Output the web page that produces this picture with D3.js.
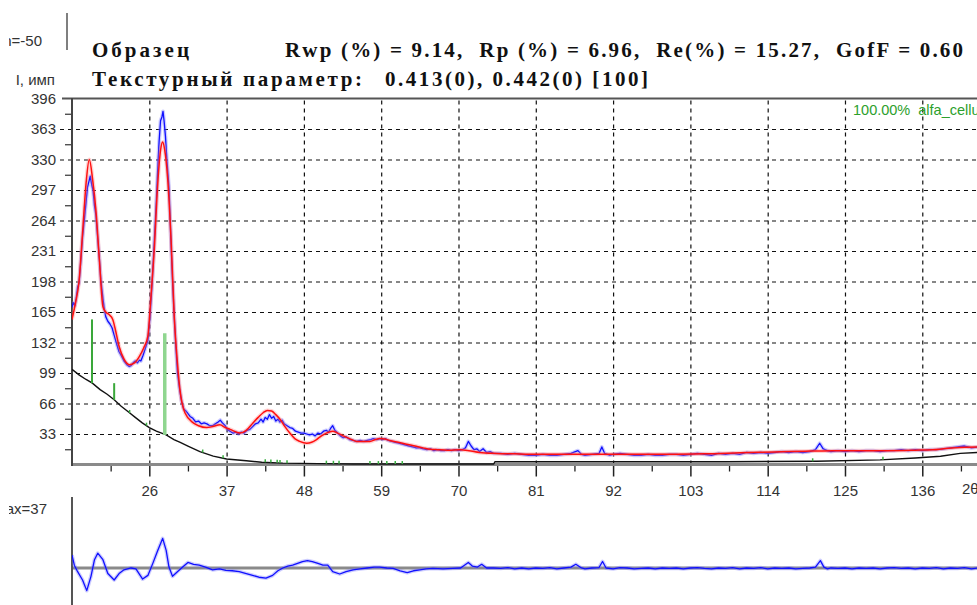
<!DOCTYPE html>
<html><head><meta charset="utf-8">
<script src="https://cdn.jsdelivr.net/npm/d3@7"></script>
<style>html,body{margin:0;padding:0;background:#fff;overflow:hidden}</style>
</head><body>
<svg id="chart" width="977" height="605"></svg>
<script>
// ---- data: 2θ (deg) vs intensity (counts) ----
const xMajorTicks = [26, 37, 48, 59, 70, 81, 92, 103, 114, 125, 136];
const xMinorTicks = [20.5, 31.5, 42.5, 53.5, 64.5, 75.5, 86.5, 97.5, 108.5, 119.5, 130.5, 141.5];
const yTickLabels = [33, 66, 99, 132, 165, 198, 231, 264, 297, 330, 363, 396];
const yMinorTicks = [16.5, 49.5, 82.5, 115.5, 148.5, 181.5, 214.5, 247.5, 280.5, 313.5, 346.5, 379.5];

// observed pattern
const observed = [
 [15.0,170],[15.2,175],[15.4,172],[15.6,180],[15.8,192],[16.0,196],[16.2,215],[16.5,246],[16.8,268],[17.0,284],
 [17.2,300],[17.4,306],[17.6,312],[17.8,303],[18.0,296],[18.2,280],[18.4,270],[18.66,245],[18.9,222],[19.1,200],
 [19.4,180],[19.6,168],[19.8,160],[20.1,155],[20.4,152],[20.7,148],[21.0,140],[21.3,132],[21.7,122],[22.0,118],
 [22.4,112],[22.8,108],[23.15,106],[23.4,107],[23.7,110],[24.0,112],[24.3,110],[24.6,113],[24.8,112],[25.1,118],
 [25.4,125],[25.8,134],[26.1,160],[26.4,196],[26.7,240],[27.0,285],[27.2,320],[27.4,350],[27.6,372],[27.8,376],
 [27.95,382],[28.1,372],[28.3,355],[28.5,330],[28.8,300],[29.1,238],[29.3,200],[29.55,160],[29.8,125],[30.0,100],
 [30.3,82],[30.6,68],[30.9,60],[31.2,58],[31.5,55],[31.8,52],[32.2,50],[32.6,46],[33.0,47],[33.4,44],
 [33.8,45],[34.2,44],[34.6,42],[35.0,42],[35.4,44],[35.8,46],[36.1,48],[36.4,45],[36.8,42],[37.1,38],
 [37.5,36],[37.9,34],[38.3,35],[38.7,33],[39.1,35],[39.5,34],[39.9,37],[40.3,38],[40.7,41],[41.1,44],
 [41.5,45],[41.9,49],[42.2,46],[42.5,51],[42.8,49],[43.1,54],[43.4,50],[43.7,52],[44.0,47],[44.3,49],
 [44.6,46],[44.9,48],[45.2,44],[45.6,42],[46.0,40],[46.4,39],[46.8,36],[47.2,35],[47.6,34],[48.0,34],
 [48.4,33],[48.8,32],[49.2,33],[49.6,31],[50.0,34],[50.4,33],[50.8,36],[51.2,37],[51.5,35],[51.8,39],
 [52.1,42],[52.4,37],[52.8,34],[53.2,31],[53.6,29],[54.0,30],[54.5,27],[55.0,26],[55.5,25],[56.0,26],
 [56.5,25],[57.0,26],[57.5,27],[57.9,28],[58.4,27],[58.8,28],[59.2,27],[59.6,28],[60.0,26],[60.5,25],
 [61.0,24],[61.5,23],[62.0,22],[62.5,21],[63.0,20],[63.5,19],[64.0,18],[64.5,18],[65.0,17],[65.5,16],
 [66.0,17],[66.5,15],[67.0,16],[67.5,15],[68.0,15],[68.5,16],[69.0,15],[69.5,16],[70.0,15],[70.5,16],
 [71.0,18],[71.4,25],[71.8,20],[72.2,16],[72.6,17],[73.0,14],[73.5,17],[74.0,13],[74.5,14],[75,12],
 [76,12],[77,11],[78,12],[79,11],[80,10],[81,10],[82,11],[83,10],[84,10],[85,11],
 [86,12],[87,15],[87.5,11],[88,10],[89,11],[90,12],[90.4,19],[90.8,12],[91.5,10],[92,11],
 [93,12],[94,11],[95,10],[96,10],[97,11],[98,10],[99,10],[100,11],[101,11],[102,10],
 [103,11],[104,12],[105,11],[106,10],[107,12],[108,11],[109,12],[110,11],[111,13],[112,12],
 [113,13],[114,12],[115,13],[116,14],[117,13],[118,14],[119,13],[120,14],[120.8,16],[121.4,23],
 [121.9,17],[122.5,15],[123,14],[124,15],[125,14],[126,15],[127,14],[128,15],[129,15],[130,14],
 [131,15],[132,15],[133,16],[134,15],[135,16],[136,15],[137,16],[138,16],[139,17],[140,18],
 [141,19],[142,20],[142.5,19],[143,18],[143.9,19]
];

// calculated profile
const calculated = [
 [15.0,157],[15.5,175],[16.0,198],[16.5,250],[17.0,304],[17.46,330],[17.94,308],[18.4,275],[18.9,221],[19.4,171],
 [19.8,165],[20.3,162],[20.8,157],[21.2,145],[21.7,128],[22.4,114],[23.15,108],[23.9,110],[24.6,117],[25.2,126],
 [25.8,139],[26.2,178],[26.7,232],[27.2,304],[27.6,340],[27.9,349],[28.2,340],[28.6,311],[29.1,243],[29.55,160],
 [30.0,110],[30.36,81],[31.07,56],[32.25,45],[33.0,42],[34.16,40],[35.0,41],[36.05,43],[36.8,40],[37.5,38],
 [38.9,34],[39.8,37],[40.75,45],[41.5,51],[42.2,56],[42.8,58.5],[43.4,58],[44.0,54],[44.6,49],[45.3,41],
 [46.0,34],[46.7,28],[47.4,25],[48.4,23],[49.1,24],[49.8,27],[50.5,31],[51.2,34],[52.1,36],[52.8,34],
 [53.6,31],[54.5,28],[55.5,25],[56.5,25],[57.4,25],[58.2,27],[58.8,28],[59.5,27.5],[60.2,26],[61.4,24],
 [62.6,22],[63.8,20],[64.97,18],[66.0,16.5],[67.0,16],[68.5,15.5],[70.2,16],[71.5,15],[73.0,13],[75.4,12],
 [78,11.5],[80.1,11],[85,11],[90,11],[94.4,11],[100,11],[105,11.5],[111.4,13],[115,13.5],[117,14],
 [120,14.5],[123.3,15],[127,15],[131,15],[135,15.5],[137.5,16],[139,17],[141.3,18.5],[143.9,19]
];

// background
const background = [
 [15,103],[16,97],[17,92],[17.9,88],[19,81],[20,76],[21,70],[22,63],[23,57],[24,51],
 [25,45],[26,40],[27,36],[28.4,32],[29.5,27],[30.4,24],[31.5,20],[33.2,14],[35.1,9],[37,6],
 [39.8,4],[42,2.5],[45,1.5],[50,1],[55,0.5],[62,0.5],[75,0.5],[75.2,3],[108,3],[121,3.5],
 [130,5],[135,7],[138.6,9],[141.4,12],[143.9,13]
];

// difference (observed - calculated)
const difference = [
 [15.0,14],[15.33,3],[15.8,-4],[16.5,-13],[17.1,-24.5],[17.7,-9],[18.2,9],[18.66,16],[19.4,9],[20.1,-6],
 [21.0,-13],[21.7,-6],[22.4,-2],[23.4,0],[24.1,-1],[25.05,-12],[25.8,-8],[26.5,5],[27.2,19],[27.9,32],
 [28.4,19],[28.8,1],[29.3,-9],[30.0,-4],[30.75,1],[31.5,6],[32.3,4],[33.1,3],[34.0,1],[35.0,-2],
 [36.0,-1],[36.9,-2.6],[37.8,-3],[38.8,-4],[39.8,-6],[40.7,-8],[41.6,-10],[42.6,-11],[43.55,-8],[44.3,-3],
 [45.0,0],[45.7,2],[46.4,3],[47.1,5],[47.8,7],[48.5,8],[49.2,7],[50.0,5],[50.7,3],[51.4,3],
 [52.1,-4],[53.1,-6.5],[54.0,-4],[55.0,-2],[56.0,-1],[57.0,0],[58.0,1],[58.8,1],[59.8,0],[60.7,-0.5],
 [61.7,-3],[62.7,-5],[63.6,-3],[64.5,-2],[65.4,-1],[66.35,-0.5],[67.8,-1],[69.2,-0.5],[70.3,0],[71.4,6],
 [72.0,2],[72.7,1],[73.3,4],[74.0,0],[75,0],[76,-0.5],[77,0.5],[78,-1],[79,0],[80,-1],
 [81,0],[82,-0.5],[83,0.5],[84,-1],[85,0],[86,1],[86.7,4],[87.5,0],[88,-1],[89,0],
 [90,0.5],[90.5,7],[91,0],[92,-1],[93,0.5],[94,0],[95,-1],[96,-0.5],[97,0],[98,-1],
 [99,0],[100,-0.5],[101,0],[102,-1],[103,0],[104,0.5],[105,-0.5],[106,-1],[107,0],[108,-0.5],
 [109,0.5],[110,-1],[111,0],[112,-0.5],[113,0.5],[114,-1],[115,0],[116,-0.5],[117,0],[118,-1],
 [119,-0.5],[120,0],[120.8,1],[121.5,8],[122,1],[122.5,-1],[123,0],[124,-0.5],[125,0],[126,-1],
 [127,0],[128,-0.5],[129,0],[130,-1],[131,0],[132,0.5],[133,-0.5],[134,0],[135,-1],[136,0],
 [137,-0.5],[138,0.5],[139,-1],[140,0],[141,-0.5],[142,0.5],[143,-1],[143.9,0]
];

// Bragg reflections: position, base (background) and top intensity
const reflPos  = [17.85, 21.0, 28.2];
const reflBase = [88, 70, 32];
const reflTop  = [157, 88, 142];
// weak reflections marked along the background
const weakRefl = [23.2, 25.6, 33.6, 36.5, 42.5, 43.3, 44.2, 44.6, 45.6, 51.2, 52.2, 53.0, 57.4, 58.6, 59.8, 61.0, 62.0, 120.4, 130.4];

// ---- layout ----
const W = 977, H = 605;
const x  = d3.scaleLinear().domain([15, 144]).range([72, 978.5]);
const y  = d3.scaleLinear().domain([0, 396]).range([464.5, 98.5]);
const yd = d3.scaleLinear().domain([-50, 37]).range([614.2, 533.8]);

const svg = d3.select("#chart");
const font = "'Liberation Sans', Arial, sans-serif";

const defs = svg.append("defs");
defs.append("clipPath").attr("id", "mainClip").append("rect")
  .attr("x", 72).attr("y", 98).attr("width", W - 72).attr("height", 367);
defs.append("clipPath").attr("id", "diffClip").append("rect")
  .attr("x", 72).attr("y", 497).attr("width", W - 72).attr("height", 108);
defs.append("clipPath").attr("id", "sideClip").append("rect")
  .attr("x", 9).attr("y", 0).attr("width", 60).attr("height", H);

// horizontal dashed grid (extends a little left of the axis)
svg.append("g").attr("transform", "translate(60,0)")
  .call(d3.axisLeft(y).tickValues(yTickLabels.slice(0, -1)).tickSize(-(W - 60)).tickFormat(""))
  .call(g => g.select(".domain").remove())
  .selectAll("line").attr("stroke", "#111").attr("stroke-width", 1.2).attr("stroke-dasharray", "4,4");

// vertical dashed grid
svg.append("g").attr("transform", "translate(0,464.5)")
  .call(d3.axisBottom(x).tickValues(xMajorTicks).tickSize(-366).tickFormat(""))
  .call(g => g.select(".domain").remove())
  .selectAll("line").attr("stroke", "#111").attr("stroke-width", 1.2).attr("stroke-dasharray", "4,4");

// y tick labels
svg.append("g").attr("transform", "translate(72,0)")
  .call(d3.axisLeft(y).tickValues(yTickLabels).tickSize(0).tickPadding(16))
  .call(g => g.select(".domain").remove())
  .selectAll("text").attr("font-family", font).attr("font-size", 15).attr("fill", "#333");

// y minor ticks
svg.append("g").attr("transform", "translate(72,0)")
  .call(d3.axisLeft(y).tickValues(yMinorTicks).tickSize(7).tickFormat(""))
  .call(g => g.select(".domain").remove())
  .selectAll("line").attr("stroke", "#333").attr("stroke-width", 1.2);

// x axis: major ticks + labels, minor ticks
const xAxisG = svg.append("g").attr("transform", "translate(0,464.5)")
  .call(d3.axisBottom(x).tickValues(xMajorTicks).tickSize(12).tickPadding(9));
xAxisG.select(".domain").remove();
xAxisG.selectAll("line").attr("stroke", "#222").attr("stroke-width", 1.5);
xAxisG.selectAll("text").attr("font-family", font).attr("font-size", 15).attr("fill", "#333");

svg.append("g").attr("transform", "translate(0,464.5)")
  .call(d3.axisBottom(x).tickValues(xMinorTicks).tickSize(7).tickFormat(""))
  .call(g => g.select(".domain").remove())
  .selectAll("line").attr("stroke", "#222").attr("stroke-width", 1.3);

// frame lines
svg.append("line").attr("x1", 62).attr("x2", W).attr("y1", 98.5).attr("y2", 98.5)
  .attr("stroke", "#555").attr("stroke-width", 2);
svg.append("line").attr("x1", 72).attr("x2", W).attr("y1", 464.5).attr("y2", 464.5)
  .attr("stroke", "#8a8a8a").attr("stroke-width", 3);
svg.append("line").attr("x1", 72).attr("x2", 72).attr("y1", 98).attr("y2", 466)
  .attr("stroke", "#444").attr("stroke-width", 2);

// ---- profiles ----
const main = svg.append("g").attr("clip-path", "url(#mainClip)");
const line = d3.line().x(d => x(d[0])).y(d => y(d[1]));
const smooth = d3.line().x(d => x(d[0])).y(d => y(d[1])).curve(d3.curveMonotoneX);

function halo(g, gen, data, color, haloColor, w) {
  g.append("path").datum(data).attr("d", gen).attr("fill", "none")
    .attr("stroke", haloColor).attr("stroke-width", w + 2.5).attr("stroke-opacity", 0.35)
    .attr("stroke-linejoin", "round");
  g.append("path").datum(data).attr("d", gen).attr("fill", "none")
    .attr("stroke", color).attr("stroke-width", w).attr("stroke-linejoin", "round");
}

// background curve
main.append("path").datum(background).attr("d", line).attr("fill", "none")
  .attr("stroke", "#111").attr("stroke-width", 1.4);

// Bragg reflection markers
function bgAt(t) {
  const i = d3.bisector(d => d[0]).left(background, t);
  if (i <= 0) return background[0][1];
  if (i >= background.length) return background[background.length - 1][1];
  const a = background[i - 1], b = background[i];
  return a[1] + (b[1] - a[1]) * (t - a[0]) / (b[0] - a[0]);
}
main.selectAll(".weak").data(weakRefl).join("line")
  .attr("x1", d => x(d)).attr("x2", d => x(d))
  .attr("y1", d => y(bgAt(d))).attr("y2", d => y(bgAt(d)) - 3)
  .attr("stroke", "#3cb043").attr("stroke-width", 1.5);
main.selectAll(".refl").data(reflPos).join("line")
  .attr("x1", d => x(d)).attr("x2", d => x(d))
  .attr("y1", (d, i) => y(reflBase[i])).attr("y2", (d, i) => y(reflTop[i]))
  .attr("stroke", (d, i) => i === 2 ? "#8fd68f" : "#3aa83a")
  .attr("stroke-width", (d, i) => i === 2 ? 3.5 : 2);

halo(main, line, observed, "#1010ff", "#6f6fff", 1.3);
halo(main, smooth, calculated, "#ff1010", "#ff8080", 1.5);

// phase legend
svg.append("text").attr("x", 853).attr("y", 115).attr("font-family", font).attr("font-size", 14.5)
  .attr("fill", "#2ca02c").attr("xml:space", "preserve").text("100.00%  alfa_cellulose");

// ---- difference panel ----
svg.append("line").attr("x1", 72).attr("x2", W).attr("y1", yd(0)).attr("y2", yd(0))
  .attr("stroke", "#8a8a8a").attr("stroke-width", 3);
svg.append("line").attr("x1", 72).attr("x2", 72).attr("y1", 497).attr("y2", H)
  .attr("stroke", "#555").attr("stroke-width", 2);
const diffLine = d3.line().x(d => x(d[0])).y(d => yd(d[1]));
halo(svg.append("g").attr("clip-path", "url(#diffClip)"), diffLine, difference, "#1010ff", "#6f6fff", 1.3);

// ---- side labels ----
svg.append("line").attr("x1", 67).attr("x2", 67).attr("y1", 13).attr("y2", 50)
  .attr("stroke", "#555").attr("stroke-width", 1.5);
const side = svg.append("g").attr("clip-path", "url(#sideClip)");
side.append("text").attr("x", 42).attr("y", 46).attr("text-anchor", "end")
  .attr("font-family", font).attr("font-size", 15).attr("fill", "#333").text("Imin=-50");
side.append("text").attr("x", 55).attr("y", 85).attr("text-anchor", "end")
  .attr("font-family", font).attr("font-size", 15).attr("fill", "#333").text("I, имп");
side.append("text").attr("x", 47).attr("y", 514).attr("text-anchor", "end")
  .attr("font-family", font).attr("font-size", 15).attr("fill", "#333").text("Imax=37");
svg.append("text").attr("x", 962).attr("y", 494)
  .attr("font-family", font).attr("font-size", 15).attr("fill", "#333").text("2θ");

// ---- header ----
const serif = "'Liberation Serif', 'Times New Roman', serif";
function title(tx, ty, len, s) {
  svg.append("text").attr("x", tx).attr("y", ty).attr("font-family", serif)
    .attr("font-size", 21).attr("font-weight", "bold").attr("fill", "#111")
    .attr("textLength", len).attr("lengthAdjust", "spacing")
    .attr("xml:space", "preserve").text(s);
}
title(92, 57, 97, "Образец");
title(285, 57, 678, "Rwp (%) = 9.14,  Rp (%) = 6.96,  Re(%) = 15.27,  GofF = 0.60");
title(92, 86, 270, "Текстурный параметр:");
title(385, 86, 263, "0.413(0), 0.442(0) [100]");
</script></body></html>
